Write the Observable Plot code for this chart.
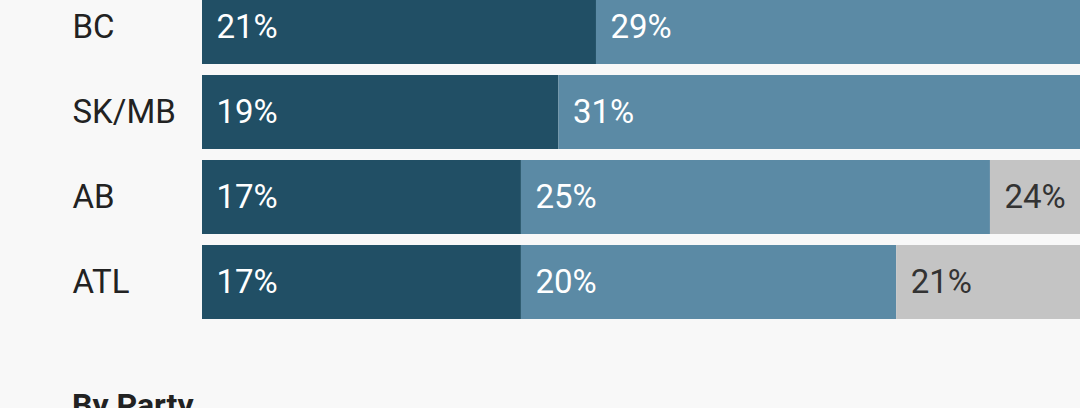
<!DOCTYPE html>
<html>
<head>
<meta charset="utf-8">
<script src="https://cdn.jsdelivr.net/npm/d3@7"></script>
<script src="https://cdn.jsdelivr.net/npm/@observablehq/plot@0.6"></script>
<style>
  html, body { margin: 0; padding: 0; background: #f8f8f8; overflow: hidden; width: 1080px; height: 408px; }
  #chart { position: absolute; left: 0; top: 0; }
  #chart svg { overflow: hidden; background: #f8f8f8; }
  #next { position: absolute; left: 72px; top: 389px; font: bold 32px Roboto, sans-serif; line-height: 32px; color: #222; }
</style>
</head>
<body>
<div id="chart"></div>
<div id="next">By Party</div>
<script>
const regions = ["BC", "SK/MB", "AB", "ATL"];
const series = ["first", "second", "third"];
const firstValues = [21, 19, 17, 17];
const secondValues = [29, 31, 25, 20];
const thirdValues = [null, null, 24, 21]; // BC and SK/MB third segments lie outside the visible area
const colors = ["#214f65", "#5b8aa5", "#c4c4c4"];
const textColors = ["#ffffff", "#ffffff", "#333333"];

const rows = [];
[firstValues, secondValues, thirdValues].forEach((vals, si) => {
  regions.forEach((r, i) => {
    if (vals[i] != null) rows.push({region: r, series: series[si], value: vals[i], si});
  });
});

const plot = Plot.plot({
  width: 1080,
  height: 380,
  marginLeft: 202,
  marginRight: 0,
  marginTop: 0,
  marginBottom: 0,
  style: {background: "#f8f8f8", fontFamily: "Roboto, sans-serif"},
  x: {domain: [0, 46.8], axis: null},
  y: {domain: regions, range: [-22.2, 331.2], padding: 0.131, axis: null},
  color: {domain: series, range: colors},
  marks: [
    Plot.barX(rows, Plot.stackX({x: "value", y: "region", fill: "series", order: "si", clip: true})),
    Plot.textX(rows, Plot.stackX1({
      x: "value", y: "region", z: "series", order: "si",
      text: d => d.value + "%",
      fill: {value: d => textColors[d.si], scale: null},
      textAnchor: "start", dx: 14, fontSize: 33, clip: true
    })),
    Plot.text(regions, {
      y: d => d, text: d => d, frameAnchor: "left", textAnchor: "start",
      dx: -130, fontSize: 33, fill: "#222"
    })
  ]
});
document.getElementById("chart").appendChild(plot);
</script>
</body>
</html>
